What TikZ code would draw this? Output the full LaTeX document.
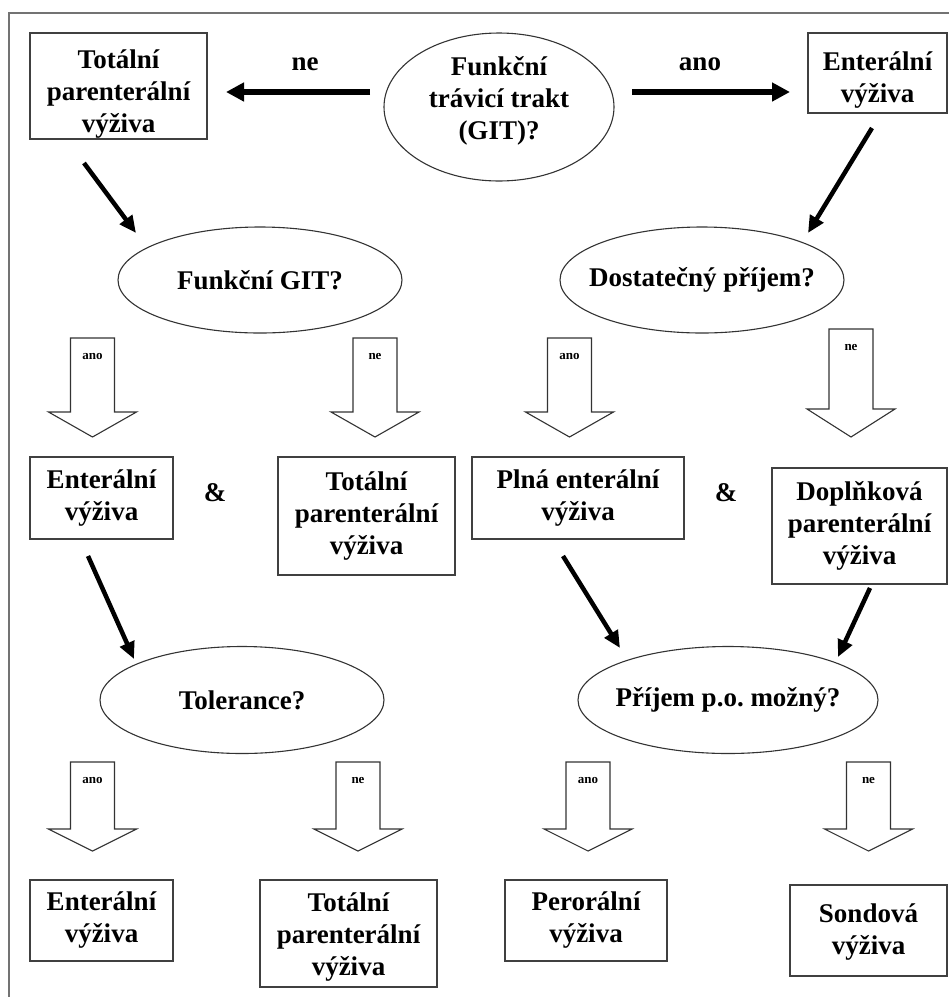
\documentclass[tikz,border=0pt]{standalone}
\usepackage{fontspec}
\setmainfont{Liberation Serif}
\usetikzlibrary{arrows.meta,shapes.geometric,calc}
\newcommand\hollowarr[6]{%
  \draw[hollow] (#2-22,#3) -- (#2+22,#3) -- (#2+22,#4) -- (#2+44,#4) -- (#2,#5) -- (#2-44,#4) -- (#2-22,#4) -- cycle;
  \node[small] (#1) at (#2,#3+18) {#6};}
\begin{document}
\frenchspacing
\begin{tikzpicture}[x=1pt,y=-1pt,
  box/.style={draw=black!75,line width=1.3pt,inner sep=0pt,align=center,font=\fontsize{27}{32}\selectfont\bfseries},
  ell/.style={ellipse,draw=black!80,line width=1.1pt,inner sep=0pt},
  txt/.style={align=center,inner sep=0pt,font=\fontsize{27}{32}\selectfont\bfseries},
  bigarrow/.style={line width=6pt,-{Triangle[length=18pt,width=18pt]}},
  diag/.style={line width=4.5pt,-{Triangle[length=17pt,width=15pt]}},
  hollow/.style={draw=black!80,line width=1.1pt,fill=white,line join=miter},
  small/.style={font=\fontsize{13}{14}\selectfont\bfseries,inner sep=0pt}]
\useasboundingbox (0,0) rectangle (949,997);
\draw[black!55,line width=2pt] (9,997) -- (9,13) -- (949,13);

% row 1
\node[box,minimum width=177pt,minimum height=106pt] (tpn1) at (118.5,86) {};
\node[txt] (tpn1t) at (118.5,94) {Totální\\parenterální\\výživa};
\node[ell,minimum width=230pt,minimum height=148pt] (q1) at (499,107) {};
\node[txt] (q1t) at (499,101) {Funkční\\trávicí trakt\\(GIT)?};
\node[box,minimum width=139pt,minimum height=80pt] (ent1) at (877.5,73) {};
\node[txt] (ent1t) at (877.5,80) {Enterální\\výživa};

\coordinate (neS) at (370,92);
\coordinate (neE) at (226,92);
\coordinate (anoS) at (632,92);
\coordinate (anoE) at (790,92);
\draw[bigarrow] (neS) -- (neE);
\draw[bigarrow] (anoS) -- (anoE);
\node[txt] (ne1) at (305,64) {ne};
\node[txt] (ano1) at (700,64) {ano};

% row 2 questions
\node[ell,minimum width=284pt,minimum height=106pt] (q2) at (260,280) {};
\node[txt] (q2t) at (q2) {Funkční GIT?};
\node[ell,minimum width=284pt,minimum height=106pt] (q3) at (702,280) {};
\node[txt] (q3t) at (q3) {Dostatečný příjem?};

\coordinate (d1s) at (84,163);
\coordinate (d1e) at (136,233);
\coordinate (d2s) at (872,128);
\coordinate (d2e) at (808,233);
\draw[diag] (d1s) -- (d1e);
\draw[diag] (d2s) -- (d2e);

% hollow arrows row 2
\hollowarr{h1}{92.5}{338}{412}{437}{ano}
\hollowarr{h2}{375}{338}{412}{437}{ne}
\hollowarr{h3}{569.5}{338}{412}{437}{ano}
\hollowarr{h4}{851}{329}{409}{437}{ne}

% row 2 boxes
\node[box,minimum width=143pt,minimum height=82pt] (ent2) at (101.5,498) {Enterální\\výživa};
\node[txt] (amp1) at (215,493) {\&};
\node[box,minimum width=177pt,minimum height=118pt] (tpn2) at (366.5,516) {Totální\\parenterální\\výživa};
\node[box,minimum width=212pt,minimum height=82pt] (full) at (578,498) {Plná enterální\\výživa};
\node[txt] (amp2) at (726,493) {\&};
\node[box,minimum width=175pt,minimum height=116pt] (supp) at (859.5,526) {Doplňková\\parenterální\\výživa};

% row 3 questions
\node[ell,minimum width=284pt,minimum height=107pt] (q4) at (242,700) {};
\node[txt] (q4t) at (q4) {Tolerance?};
\node[ell,minimum width=300pt,minimum height=107pt] (q5) at (728,700) {};
\node[txt] (q5t) at (q5) {Příjem p.o. možný?};

\coordinate (d3s) at (88,556);
\coordinate (d3e) at (134,659);
\coordinate (d4s) at (563,556);
\coordinate (d4e) at (620,648);
\coordinate (d5s) at (870,588);
\coordinate (d5e) at (838,657);
\draw[diag] (d3s) -- (d3e);
\draw[diag] (d4s) -- (d4e);
\draw[diag] (d5s) -- (d5e);

% hollow arrows row 3
\hollowarr{k1}{92.5}{762}{829}{851}{ano}
\hollowarr{k2}{358}{762}{829}{851}{ne}
\hollowarr{k3}{588}{762}{829}{851}{ano}
\hollowarr{k4}{868.5}{762}{829}{851}{ne}

% row 3 boxes
\node[box,minimum width=143pt,minimum height=81pt] (ent3) at (101.5,920.5) {Enterální\\výživa};
\node[box,minimum width=177pt,minimum height=107pt] (tpn3) at (348.5,933.5) {};
\node[txt] (tpn3t) at (348.5,937) {Totální\\parenterální\\výživa};
\node[box,minimum width=162pt,minimum height=81pt] (oral) at (586,920.5) {Perorální\\výživa};
\node[box,minimum width=157pt,minimum height=91pt] (tube) at (868.5,930.5) {};
\node[txt] (tubet) at (868.5,932) {Sondová\\výživa};
\end{tikzpicture}
\end{document}
